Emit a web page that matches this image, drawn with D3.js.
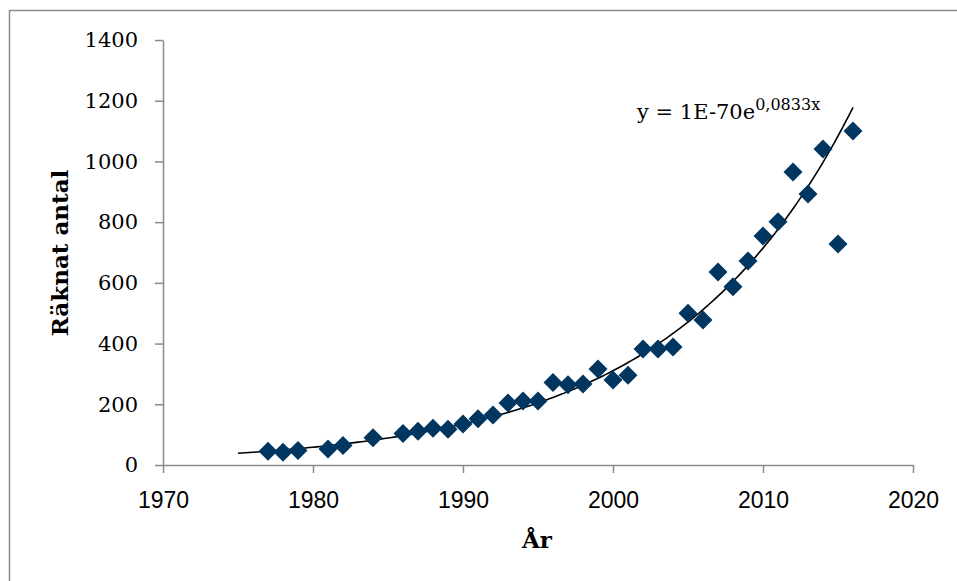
<!DOCTYPE html>
<html>
<head>
<meta charset="utf-8">
<script src="https://cdn.jsdelivr.net/npm/d3@7"></script>
<style>
  body { margin: 0; background: #fff; }
</style>
</head>
<body>
<div id="chart"></div>
<script>

// Counted per year
const years = [1977, 1978, 1979, 1981, 1982, 1984, 1986, 1987, 1988, 1989,
               1990, 1991, 1992, 1993, 1994, 1995, 1996, 1997, 1998, 1999,
               2000, 2001, 2002, 2003, 2004, 2005, 2006, 2007, 2008, 2009,
               2010, 2011, 2012, 2013, 2014, 2015, 2016];
const counts = [45, 42, 48, 53, 64, 90, 104, 111, 121, 118,
                135, 152, 165, 204, 211, 211, 272, 264, 267, 316,
                280, 296, 382, 382, 389, 500, 478, 636, 587, 672,
                754, 801, 965, 893, 1041, 728, 1100];
const xTicks = [1970, 1980, 1990, 2000, 2010, 2020];
const yTicks = [0, 200, 400, 600, 800, 1000, 1200, 1400];
const trendStart = 1975, trendEnd = 2016;

const data = years.map((yr, i) => ({year: yr, num: counts[i]}));

const height = 581,
      width = 957,
      margin = ({top: 40, right: 44, bottom: 116, left: 163});

let svg = d3.select("#chart")
    .append("svg")
    .attr("width", width)
    .attr("height", height)
    .attr("viewBox", [0, 0, width, height]);

// chart area frame (only left and top visible)
svg.append("rect")
    .attr("x", 9.5)
    .attr("y", 10.5)
    .attr("width", width + 20)
    .attr("height", height + 20)
    .attr("fill", "none")
    .attr("stroke", "#8a8a8a")
    .attr("stroke-width", 1.5);

let x = d3.scaleLinear()
    .domain([1970, 2020])
    .range([margin.left, width - margin.right]);

let y = d3.scaleLinear()
    .domain([0, 1400])
    .range([height - margin.bottom, margin.top]);

const xAxis = g => g
    .attr("transform", `translate(0,${height - margin.bottom})`)
    .call(d3.axisBottom(x).tickValues(xTicks).tickFormat(d3.format("d"))
        .tickSize(8).tickSizeOuter(0));

const yAxis = g => g
    .attr("transform", `translate(${margin.left},0)`)
    .call(d3.axisLeft(y).tickValues(yTicks).tickFormat(d3.format("d"))
        .tickSize(8).tickSizeOuter(0).tickPadding(17));

let gx = svg.append("g").call(xAxis);
let gy = svg.append("g").call(yAxis);

for (let g of [gx, gy]) {
    g.selectAll("path, line").attr("stroke", "#8a8a8a").attr("stroke-width", 1.5);
}
gx.selectAll("text")
    .attr("y", 43)
    .attr("dy", 0)
    .attr("fill", "#000")
    .style("font-family", "'Liberation Sans', Arial, sans-serif")
    .style("font-size", "23px");
gy.selectAll("text")
    .attr("fill", "#000")
    .style("font-family", "'DejaVu Serif', serif")
    .style("font-size", "21px");

// exponential trendline, least squares on ln(y)
const lx = data.map(d => d.year),
      ly = data.map(d => Math.log(d.num));
const mx = d3.mean(lx), my = d3.mean(ly);
const b = d3.sum(lx, (v, i) => (v - mx) * (ly[i] - my)) / d3.sum(lx, v => (v - mx) ** 2);
const a = Math.exp(my - b * mx);
const trend = d3.range(trendStart, trendEnd + 0.01, 0.25).map(t => ({year: t, num: a * Math.exp(b * t)}));

svg.append("path")
    .datum(trend)
    .attr("fill", "none")
    .attr("stroke", "#000")
    .attr("stroke-width", 1.6)
    .attr("d", d3.line().x(d => x(d.year)).y(d => y(d.num)));

// diamonds
const r = 9.5;
svg.selectAll(".pt")
    .data(data)
    .join("path")
    .attr("class", "pt")
    .attr("fill", "#003660")
    .attr("transform", d => `translate(${x(d.year)},${y(d.num)})`)
    .attr("d", `M0,${-r}L${r},0L0,${r}L${-r},0Z`);

// trendline equation
let eq = svg.append("text")
    .attr("x", 637)
    .attr("y", 119)
    .style("font-family", "'DejaVu Serif', serif")
    .style("font-size", "21px")
    .attr("fill", "#000");
eq.append("tspan").text("y = 1E-70e");
eq.append("tspan").attr("dy", -9).style("font-size", "16px").text("0,0833x");

// axis titles
svg.append("text")
    .attr("transform", "translate(68,253) rotate(-90)")
    .attr("text-anchor", "middle")
    .style("font-family", "'DejaVu Serif', serif")
    .style("font-size", "23px")
    .style("font-weight", "bold")
    .text("Räknat antal");

svg.append("text")
    .attr("x", 537)
    .attr("y", 548)
    .attr("text-anchor", "middle")
    .style("font-family", "'DejaVu Serif', serif")
    .style("font-size", "23px")
    .style("font-weight", "bold")
    .text("År");

</script>
</body>
</html>
